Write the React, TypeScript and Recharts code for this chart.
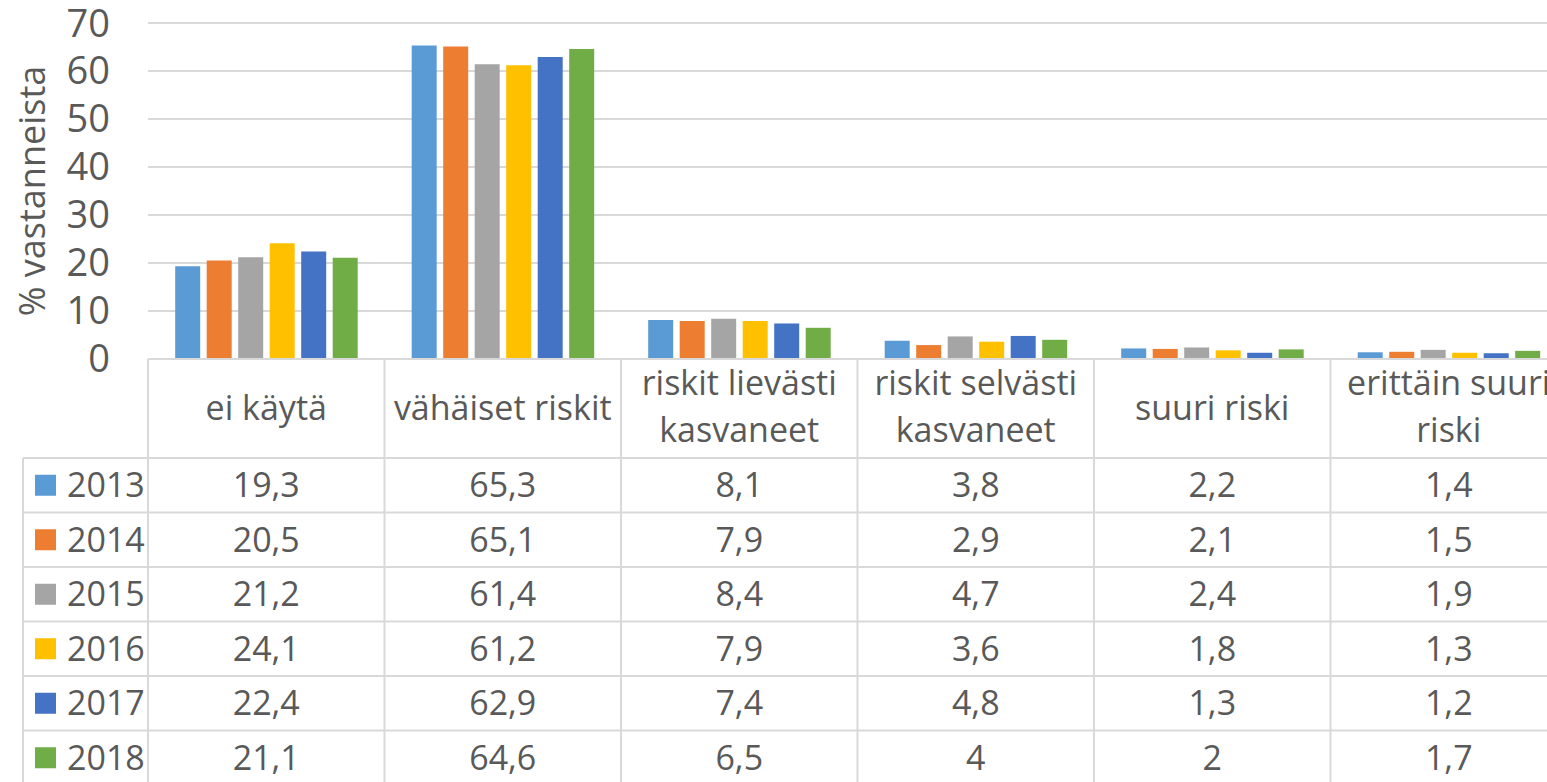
import React from 'react';
import { BarChart, Bar, XAxis, YAxis, CartesianGrid } from 'recharts';

const categories = [
  'ei käytä',
  'vähäiset riskit',
  'riskit lievästi kasvaneet',
  'riskit selvästi kasvaneet',
  'suuri riski',
  'erittäin suuri riski',
];
const years = ['2013', '2014', '2015', '2016', '2017', '2018'];
const colors = ['#5B9BD5', '#ED7D31', '#A5A5A5', '#FFC000', '#4472C4', '#70AD47'];

const v2013 = [19.3, 65.3, 8.1, 3.8, 2.2, 1.4];
const v2014 = [20.5, 65.1, 7.9, 2.9, 2.1, 1.5];
const v2015 = [21.2, 61.4, 8.4, 4.7, 2.4, 1.9];
const v2016 = [24.1, 61.2, 7.9, 3.6, 1.8, 1.3];
const v2017 = [22.4, 62.9, 7.4, 4.8, 1.3, 1.2];
const v2018 = [21.1, 64.6, 6.5, 4, 2, 1.7];

const yTicks = [0, 10, 20, 30, 40, 50, 60, 70];
const yTitle = '% vastanneista';

const series = [v2013, v2014, v2015, v2016, v2017, v2018];
const data = categories.map((name, i) => {
  const row: Record<string, any> = { name };
  years.forEach((y, s) => (row['y' + y] = series[s][i]));
  return row;
});

// layout
const CHART_W = 1567;
const CHART_H = 782;
const PLOT_LEFT = 148;
const PLOT_TOP = 23;
const PLOT_BOTTOM = 359;
const BAND = (CHART_W - PLOT_LEFT) / categories.length;
const TABLE_LEFT = 23;
const ROW_TOP = 458;
const ROW_H = 54.5;
const GRID = '#d9d9d9';
const TEXT = '#595959';
const FONT = "'Open Sans', sans-serif";
const FS = 34;

const fmt = (v: number) => String(v).replace('.', ',');

const wrap = (s: string, max = 15) => {
  const words = s.split(' ');
  const lines: string[] = [];
  let cur = '';
  words.forEach((w) => {
    const next = cur ? cur + ' ' + w : w;
    if (next.length > max && cur) {
      lines.push(cur);
      cur = w;
    } else cur = next;
  });
  if (cur) lines.push(cur);
  return lines;
};

const TableTick = (props: any) => {
  const { x, index, payload } = props;
  const left = x - BAND / 2;
  const lines = wrap(payload.value);
  return (
    <g fontFamily={FONT} fontSize={FS} fill={TEXT}>
      <line x1={left} x2={left} y1={PLOT_BOTTOM} y2={CHART_H} stroke={GRID} strokeWidth={2} />
      {lines.map((l, i) => (
        <text key={i} x={x} y={lines.length === 1 ? 420 : 395 + i * 47} textAnchor="middle">
          {l}
        </text>
      ))}
      {series.map((s, r) => (
        <text key={'v' + r} x={x} y={ROW_TOP + r * ROW_H + ROW_H / 2 + 12} textAnchor="middle">
          {fmt(s[index])}
        </text>
      ))}
      {index === 0 && (
        <g>
          <line x1={TABLE_LEFT} x2={TABLE_LEFT} y1={ROW_TOP} y2={CHART_H} stroke={GRID} strokeWidth={2} />
          {years.map((y, r) => (
            <g key={'h' + r}>
              <line
                x1={TABLE_LEFT}
                x2={CHART_W}
                y1={ROW_TOP + r * ROW_H}
                y2={ROW_TOP + r * ROW_H}
                stroke={GRID}
                strokeWidth={2}
              />
              <rect x={35} y={ROW_TOP + r * ROW_H + ROW_H / 2 - 10.5} width={21} height={21} fill={colors[r]} />
              <text x={67} y={ROW_TOP + r * ROW_H + ROW_H / 2 + 12}>
                {y}
              </text>
            </g>
          ))}
        </g>
      )}
    </g>
  );
};

const AxisTitle = () => (
  <text
    x={45}
    y={191}
    transform="rotate(-90, 45, 191)"
    textAnchor="middle"
    fontFamily={FONT}
    fontSize={36}
    fill={TEXT}
  >
    {yTitle}
  </text>
);

export default function App() {
  return (
    <div
      style={{
        position: 'absolute',
        left: 0,
        top: 0,
        width: 1547,
        height: 782,
        overflow: 'hidden',
        background: '#fff',
      }}
    >
      <BarChart
        width={CHART_W}
        height={CHART_H}
        data={data}
        margin={{ top: PLOT_TOP, right: 0, bottom: 0, left: 0 }}
        barCategoryGap="11.5%"
        barGap={6.5}
      >
        <CartesianGrid vertical={false} stroke={GRID} strokeWidth={2} />
        <XAxis
          dataKey="name"
          height={CHART_H - PLOT_BOTTOM}
          interval={0}
          tickLine={false}
          axisLine={{ stroke: GRID, strokeWidth: 2 }}
          tick={<TableTick />}
        />
        <YAxis
          width={PLOT_LEFT}
          domain={[0, 70]}
          ticks={yTicks}
          interval={0}
          axisLine={false}
          tickLine={false}
          tickMargin={32}
          tick={{ fontSize: 38, fill: TEXT, fontFamily: FONT }}
          label={<AxisTitle />}
        />
        {years.map((y, i) => (
          <Bar key={y} dataKey={'y' + y} fill={colors[i]} isAnimationActive={false} />
        ))}
      </BarChart>
    </div>
  );
}
